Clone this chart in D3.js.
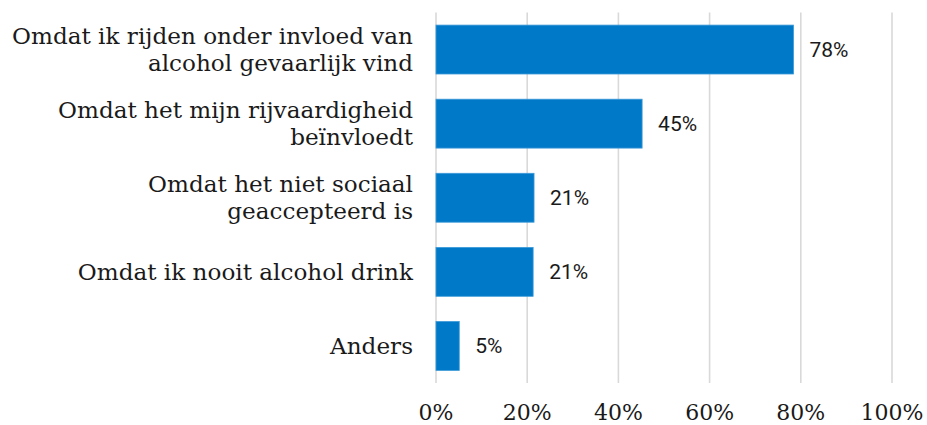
<!DOCTYPE html>
<html><head><meta charset="utf-8">
<script src="https://cdn.jsdelivr.net/npm/d3@7"></script>
<style>body{margin:0;background:#fff}</style>
</head><body>
<svg id="c" width="927" height="425"></svg>
<script>
const categories = [
  ["Omdat ik rijden onder invloed van","alcohol gevaarlijk vind"],
  ["Omdat het mijn rijvaardigheid","beïnvloedt"],
  ["Omdat het niet sociaal","geaccepteerd is"],
  ["Omdat ik nooit alcohol drink"],
  ["Anders"]
];
const values = [78.4, 45.2, 21.5, 21.3, 5.1];
const valueLabels = ["78%","45%","21%","21%","5%"];
const ticks = [0,20,40,60,80,100];

const svg = d3.select("#c");
const x = d3.scaleLinear().domain([0,100]).range([436,892]);
const y = d3.scaleBand().domain(d3.range(categories.length)).range([12.5,383]).paddingInner(0.34).paddingOuter(0.17);

// gridlines
svg.append("g").selectAll("line").data(ticks).join("line")
  .attr("x1",d=>x(d)).attr("x2",d=>x(d)).attr("y1",12.5).attr("y2",383)
  .attr("stroke","#d9d9d9").attr("stroke-width",1.6);

// bars
svg.append("g").selectAll("rect").data(values).join("rect")
  .attr("x",x(0)).attr("y",(d,i)=>y(i))
  .attr("width",d=>x(d)-x(0)).attr("height",y.bandwidth())
  .attr("fill","#0079c8").attr("stroke","#3d9ad8").attr("stroke-width",0.8);

// value labels
svg.append("g").selectAll("text").data(values).join("text")
  .attr("x",d=>x(d)+16).attr("y",(d,i)=>y(i)+y.bandwidth()/2)
  .attr("dy","0.35em")
  .attr("font-family","Roboto, 'Noto Sans', sans-serif").attr("font-size",21)
  .attr("fill","#1a1a1a")
  .text((d,i)=>valueLabels[i]);

// category labels
const serif = "'DejaVu Serif', serif";
const lg = svg.append("g");
const lineH = 27;
categories.forEach((lines,i)=>{
  const cy = y(i)+y.bandwidth()/2;
  const t = lg.append("text").attr("text-anchor","end")
    .attr("font-family",serif).attr("font-size",22).attr("fill","#1a1a1a");
  lines.forEach((l,j)=>{
    t.append("tspan").attr("x",413)
     .attr("y",cy + (j-(lines.length-1)/2)*lineH)
     .attr("dy","0.35em").text(l);
  });
});
// fit font size so longest line spans ~401px
const first = lg.select("text tspan").node();
const w = first.getComputedTextLength();
const fs = 22*401/w;
lg.selectAll("text").attr("font-size",fs);

// tick labels
svg.append("g").selectAll("text").data(ticks).join("text")
  .attr("x",d=>x(d)).attr("y",420).attr("text-anchor","middle")
  .attr("font-family",serif).attr("font-size",Math.min(fs,22)).attr("fill","#1a1a1a")
  .text(d=>d+"%");
</script>
</body></html>
